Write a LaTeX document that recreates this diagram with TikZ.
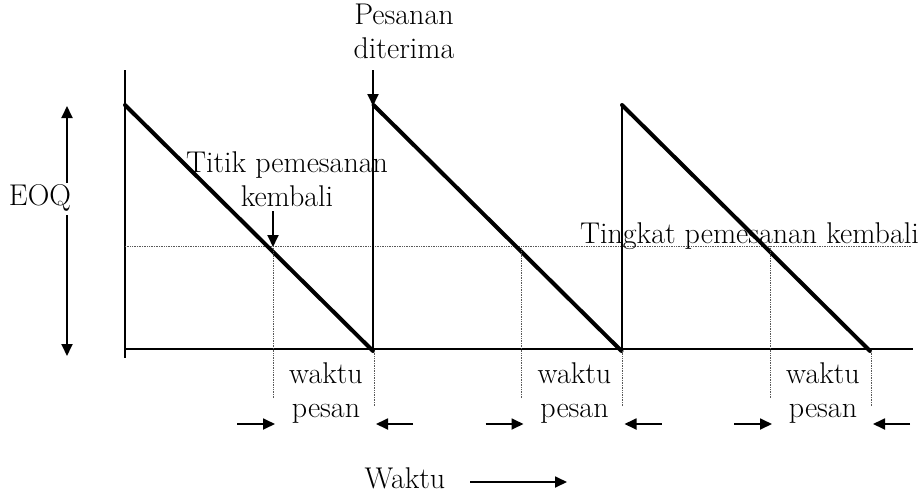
\documentclass[tikz,border=0pt]{standalone}
\usetikzlibrary{arrows.meta}
\begin{document}
\begin{tikzpicture}[x=1pt,y=-1pt,>={Triangle[length=12pt,width=11pt]},
    lbl/.style={font=\fontsize{30}{34}\selectfont,align=center,inner sep=0pt},
    axis/.style={line width=1.8pt},
    saw/.style={line width=4pt,line cap=round},
    guide/.style={densely dotted,line width=0.7pt,gray!70!black},
    pointer/.style={->,line width=1.8pt}]
    \useasboundingbox (0,0) rectangle (922,493);

    % axes
    \draw[axis] (125,70) -- (125,358);
    \draw[axis] (125,349) -- (913,349);

    % reorder level
    \draw[guide] (125,246) -- (912,246);
    \node[lbl,anchor=base east] (tingkat) at (919,243) {Tingkat pemesanan kembali};

    % EOQ
    \node[lbl] (eoq) at (40,198) {EOQ};
    \coordinate (eoqtop) at (67,106);
    \coordinate (eoqbot) at (67,356);
    \draw[pointer] (67,183) -- (eoqtop);
    \draw[pointer] (67,215) -- (eoqbot);

    % replenishment lines
    \draw[axis] (373,349) -- (373,105);
    \draw[axis] (622,349) -- (622,105);

    % cycles
    \foreach \s in {0,1,2} {
    \begin{scope}[xshift=\s*248.5pt]
        \draw[saw] (125,105) -- (373,351);
        \draw[guide] (273,246) -- (273,398);
        \draw[guide] (374,351) -- (374,406);
        \node[lbl] (lead\s) at (326,393) {waktu\\pesan};
        \coordinate (la\s) at (275,424);
        \coordinate (lb\s) at (376,424);
        \draw[pointer] (237,424) -- (la\s);
        \draw[pointer] (413,424) -- (lb\s);
    \end{scope}
    }

    % labels with pointers
    \node[lbl] (titik) at (287,179) {Titik pemesanan\\kembali};
    \coordinate (rop) at (273,247);
    \draw[pointer] (273,211) -- (rop);

    \node[lbl] (terima) at (404,31) {Pesanan\\diterima};
    \coordinate (peak) at (373,106);
    \draw[pointer] (373,70) -- (peak);

    % time axis
    \node[lbl] (waktu) at (405,478) {Waktu};
    \coordinate (wend) at (567,482);
    \draw[pointer] (470,482) -- (wend);
\end{tikzpicture}
\end{document}
